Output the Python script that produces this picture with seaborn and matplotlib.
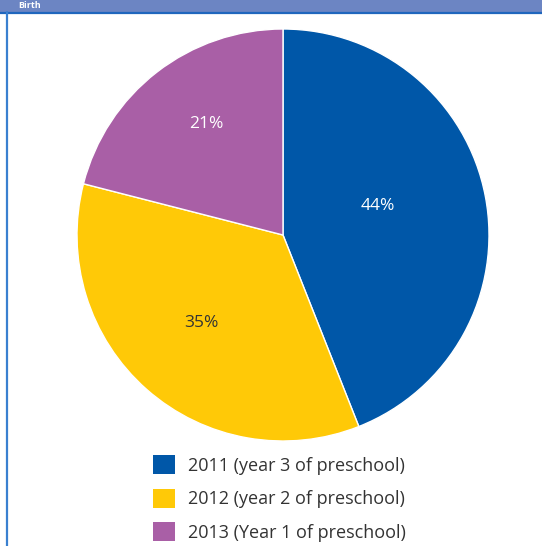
import numpy as np
import matplotlib
matplotlib.use("Agg")
import matplotlib.pyplot as plt
from matplotlib.patches import Rectangle
from matplotlib.lines import Line2D
import seaborn as sns

# Share of children by year of birth
categories = ["2011 (year 3 of preschool)", "2012 (year 2 of preschool)", "2013 (Year 1 of preschool)"]
shares = [44, 35, 21]
colors = ["#0057a8", "#ffc907", "#a95fa6"]
label_colors = ["white", "#333333", "white"]
title = "Birth"

sns.set_theme(style="white")
plt.rcParams["font.family"] = ["Open Sans", "DejaVu Sans"]

W, H = 542, 546
fig = plt.figure(figsize=(W / 100, H / 100), dpi=100)
fig.patch.set_facecolor("white")

# header band with title
fig.patches.append(Rectangle((0, 1 - 12 / H), 1, 12 / H, transform=fig.transFigure,
                             facecolor="#6c85c3", edgecolor="none", zorder=0))
fig.lines.append(Line2D([0, 1], [1 - 12.5 / H] * 2, transform=fig.transFigure,
                        color="#1f66bd", lw=1.6))
fig.lines.append(Line2D([6.5 / W] * 2, [0, 1 - 12 / H], transform=fig.transFigure,
                        color="#3a80d0", lw=1.6))
fig.text(18 / W, 1 - 6 / H, title, color="white", fontsize=6.5, fontweight="bold",
         va="center", ha="left")

cx, cy, r = 283, 235, 206
ax = fig.add_axes([(cx - r) / W, (H - cy - r) / H, 2 * r / W, 2 * r / H])
wedges, texts, autotexts = ax.pie(
    shares, colors=colors, startangle=90, counterclock=False,
    autopct="%d%%", pctdistance=0.6,
    wedgeprops=dict(edgecolor="white", linewidth=1.0),
    textprops=dict(fontsize=12.5),
)
# label placement along each wedge (radius fraction, angle nudge in degrees)
placement = [(0.48, 6), (0.58, -1.5), (0.655, -3)]
for w, t, c, (rf, da) in zip(wedges, autotexts, label_colors, placement):
    ang = np.deg2rad((w.theta1 + w.theta2) / 2 + da)
    t.set_position((rf * np.cos(ang), rf * np.sin(ang)))
    t.set_color(c)
    t.set_ha("center")
    t.set_va("center")
ax.set_xlim(-1, 1)
ax.set_ylim(-1, 1)
ax.set_aspect("equal")
ax.axis("off")

handles = [Rectangle((0, 0), 1, 1, facecolor=c, edgecolor="none") for c in colors]
fig.legend(handles, categories, loc="upper left",
           bbox_to_anchor=(146 / W, 1 - 448 / H), frameon=False,
           fontsize=13, handlelength=1.22, handleheight=1.22,
           handletextpad=0.7, labelspacing=0.78, borderaxespad=0,
           labelcolor="#333333")

fig.savefig("out.png", dpi=100)
